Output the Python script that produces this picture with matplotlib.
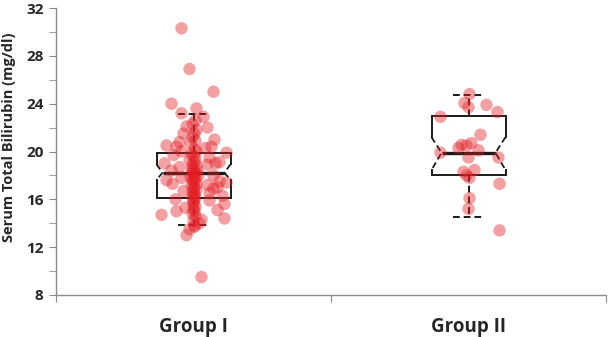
import matplotlib
matplotlib.use("Agg")
import matplotlib.pyplot as plt
import numpy as np

# ---------------- data ----------------
categories = ["Group I", "Group II"]

g1_values = [30.3, 26.9, 25.0, 24.0, 23.6, 23.2, 22.9, 22.1, 21.5, 21.0,
             20.5, 20.4, 20.4, 19.9, 19.0, 19.1, 17.6, 17.3, 17.4, 17.0,
             16.3, 15.6, 15.1, 14.7, 15.0, 14.4, 14.3, 13.7, 13.0, 9.5,
             22.6, 22.3, 21.8, 21.2, 20.9, 20.7, 20.2, 20.0, 19.8, 19.6,
             19.4, 19.3, 19.1, 18.9, 18.8, 18.6, 18.5, 18.4, 18.3, 18.2,
             18.1, 18.0, 17.9, 17.8, 17.7, 17.6, 17.5, 17.3, 17.2, 17.0,
             16.9, 16.8, 16.6, 16.5, 16.4, 16.2, 16.1, 16.0, 15.8, 15.6,
             15.4, 15.2, 15.0, 14.8, 14.6, 14.2, 13.8,
             20.8, 20.3, 19.7, 19.5, 18.9, 18.7, 18.4, 18.0, 17.8, 17.2,
             16.7, 16.9, 16.0, 15.9, 15.3, 19.0, 21.5, 22.0, 20.0, 17.5,
             16.5, 13.5, 14.0]
g1_jitter = [-12, -4, 20, -22, 3, -12, 10, -7, 1, 21,
             -27, -17, 18, 33, -29, 26, -27, -21, 33, 24,
             29, 31, 24, -32, -17, 31, 8, 1, -7, 8,
             2, -1, 3, -1, 2, -3, 1, 3, -2, 0,
             2, -4, 1, -1, 3, -2, 0, 4, -1, 2,
             0, 5, -3, 1, 2, -1, 0, 3, -2, 1,
             0, 3, -1, 1, 0, 2, -1, 1, 0, 0,
             2, 0, 1, -1, 2, 0, 1,
             -14, 12, -20, 16, 14, -14, -22, 20, -12, 14,
             -10, 20, -18, 16, -8, 22, -10, 14, -12, 26,
             16, -4, 6]

g2_values = [24.8, 24.05, 23.7, 23.9, 23.3, 22.9, 21.4, 20.55, 20.5, 20.7,
             19.9, 20.1, 19.5, 19.5, 18.45, 18.0, 17.8, 17.3, 16.1, 15.2,
             13.4, 20.3, 18.3]
g2_jitter = [1, -4, 0, 18, 29, -28, 12, -7, -2, 3,
             -28, 10, 0, 30, 6, -2, 1, 31, 1, 0,
             31, -10, -5]

# box statistics: whisker low, Q1, notch low, median, notch high, Q3, whisker high
box_whislo = [13.85, 14.55]
box_q1 = [16.14, 18.0]
box_ci_lo = [17.62, 18.45]
box_median = [18.23, 19.9]
box_ci_hi = [18.93, 21.2]
box_q3 = [19.87, 23.0]
box_whishi = [23.1, 24.7]

y_ticks = [8, 12, 16, 20, 24, 28, 32]

# ---------------- figure ----------------
W, H = 608, 337
fig = plt.figure(figsize=(W / 100, H / 100), dpi=100)
ax = fig.add_axes([56 / W, 1 - 295 / H, 550 / W, 287 / H])

px = 2.0 / 550.0  # category units per pixel
centers = [0.5, 1.5]
half_w = 37 * px
cap_w = 16 * px
indents = [6 * px, 10 * px]
line_col = "#1a1a1a"
dash = (0, (3.5, 2))

for i, c in enumerate(centers):
    L, R = c - half_w, c + half_w
    d = indents[i]
    ax.plot([L, L, R, R], [box_ci_hi[i], box_q3[i], box_q3[i], box_ci_hi[i]],
            color=line_col, lw=1.4, solid_joinstyle="miter")
    ax.plot([L, L, R, R], [box_ci_lo[i], box_q1[i], box_q1[i], box_ci_lo[i]],
            color=line_col, lw=1.4, solid_joinstyle="miter")
    ax.plot([L, L + d, L], [box_ci_hi[i], box_median[i], box_ci_lo[i]],
            color=line_col, lw=1.3, linestyle=dash)
    ax.plot([R, R - d, R], [box_ci_hi[i], box_median[i], box_ci_lo[i]],
            color=line_col, lw=1.3, linestyle=dash)
    ax.plot([L + d, R - d], [box_median[i], box_median[i]], color=line_col, lw=2.4,
            solid_capstyle="butt")
    ax.plot([c, c], [box_q3[i], box_whishi[i]], color=line_col, lw=1.4, linestyle=dash)
    ax.plot([c, c], [box_q1[i], box_whislo[i]], color=line_col, lw=1.4, linestyle=dash)
    ax.plot([c - cap_w, c + cap_w], [box_whishi[i], box_whishi[i]], color=line_col, lw=1.4,
            linestyle=dash)
    ax.plot([c - cap_w, c + cap_w], [box_whislo[i], box_whislo[i]], color=line_col, lw=1.4,
            linestyle=dash)

pt_col = "#E31E24"
for c, vals, jit in [(centers[0], g1_values, g1_jitter), (centers[1], g2_values, g2_jitter)]:
    xs = c + np.array(jit) * px
    ax.scatter(xs, vals, s=80, color=pt_col, alpha=0.42, edgecolors="none", zorder=5)

font = dict(fontfamily="Open Sans", fontweight="bold", color="#262626")
ax.set_xlim(0, 2)
ax.set_ylim(8, 32)
ax.set_yticks(y_ticks)
ax.set_yticks(np.arange(10, 32, 4), minor=True)
ax.set_yticklabels([str(t) for t in y_ticks], fontsize=11, **font)
ax.set_xticks([0, 1, 2])
ax.set_xticklabels([])
ax.set_xticks(centers, minor=True)
ax.set_xticklabels(categories, minor=True, fontsize=13.5, **font)
ax.tick_params(axis="x", which="minor", length=0, pad=16)
ax.tick_params(axis="x", which="major", length=5, color="#8c8c8c", direction="out")
ax.tick_params(axis="y", which="major", length=5, color="#8c8c8c", direction="out", pad=4)
ax.tick_params(axis="y", which="minor", length=5, color="#8c8c8c", direction="out")

for s in ["top", "right"]:
    ax.spines[s].set_visible(False)
for s in ["left", "bottom"]:
    ax.spines[s].set_color("#8c8c8c")
    ax.spines[s].set_linewidth(1.0)

ax.set_ylabel("Serum Total Bilirubin (mg/dl)", fontsize=10.5, **font)
ax.yaxis.set_label_coords(-0.072, 0.55)

fig.savefig("out.png", dpi=100)
